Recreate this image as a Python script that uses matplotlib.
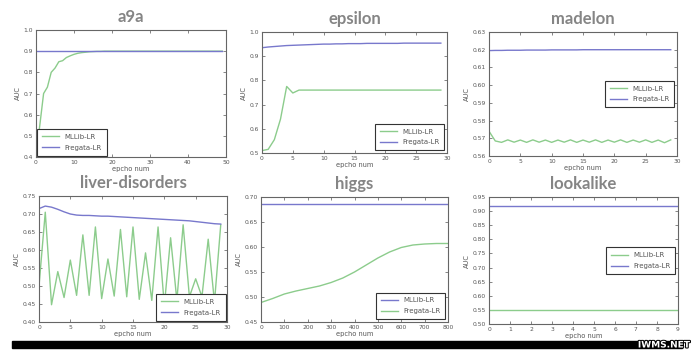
import numpy as np
import matplotlib
matplotlib.use("Agg")
import matplotlib.pyplot as plt
import matplotlib.patheffects as pe

# ---- data ----
a9a_x = list(range(50))
a9a_mllib = [0.40, 0.55, 0.70, 0.73, 0.80, 0.82, 0.85, 0.855, 0.87, 0.878,
             0.885, 0.890, 0.893, 0.895, 0.897, 0.898, 0.899, 0.899, 0.900, 0.900] + [0.900] * 30
a9a_fregata = [0.901] * 50

eps_x = list(range(30))
eps_mllib = [0.51, 0.515, 0.555, 0.64, 0.775, 0.748, 0.76, 0.76, 0.76, 0.76] + [0.76] * 20
eps_fregata = [0.935, 0.938, 0.940, 0.942, 0.944, 0.945, 0.946, 0.947, 0.948, 0.949,
               0.950, 0.950, 0.951, 0.951, 0.952, 0.952, 0.952, 0.953, 0.953, 0.953,
               0.953, 0.953, 0.953, 0.954, 0.954, 0.954, 0.954, 0.954, 0.954, 0.954]

mad_x = list(range(30))
mad_mllib = [0.5740, 0.5685, 0.5677, 0.5691, 0.5678, 0.5690, 0.5677, 0.5691, 0.5678, 0.5690,
             0.5677, 0.5690, 0.5678, 0.5691, 0.5677, 0.5690, 0.5678, 0.5691, 0.5677, 0.5690,
             0.5678, 0.5691, 0.5677, 0.5690, 0.5678, 0.5691, 0.5677, 0.5690, 0.5675, 0.5691]
mad_fregata = [0.6195, 0.6196, 0.6196, 0.6197, 0.6197, 0.6197, 0.6198, 0.6198, 0.6198, 0.6198,
               0.6199, 0.6199, 0.6199, 0.6199, 0.6199, 0.6200, 0.6200, 0.6200, 0.6200, 0.6200,
               0.6200, 0.6200, 0.6200, 0.6200, 0.6200, 0.6200, 0.6200, 0.6200, 0.6200, 0.6200]

liver_x = list(range(30))
liver_mllib = [0.50, 0.705, 0.448, 0.540, 0.468, 0.572, 0.474, 0.642, 0.474, 0.664,
               0.465, 0.575, 0.472, 0.657, 0.470, 0.664, 0.463, 0.592, 0.460, 0.664,
               0.445, 0.634, 0.460, 0.670, 0.470, 0.520, 0.470, 0.630, 0.455, 0.670]
liver_fregata = [0.715, 0.722, 0.719, 0.713, 0.706, 0.700, 0.697, 0.696, 0.696, 0.695,
                 0.694, 0.694, 0.693, 0.692, 0.691, 0.690, 0.689, 0.688, 0.687, 0.686,
                 0.685, 0.684, 0.683, 0.682, 0.681, 0.679, 0.677, 0.675, 0.673, 0.672]

higgs_x = [0, 50, 100, 150, 200, 250, 300, 350, 400, 450, 500, 550, 600, 650, 700, 750, 800]
higgs_mllib = [0.685] * 17
higgs_fregata = [0.489, 0.497, 0.506, 0.512, 0.517, 0.522, 0.529, 0.538, 0.550, 0.564,
                 0.578, 0.590, 0.599, 0.604, 0.606, 0.607, 0.607]

look_x = list(range(10))
look_mllib = [0.55] * 10
look_fregata = [0.918] * 10

BLUE = "#7878cc"
GREEN = "#8ccc8c"
FRAME = "#666666"
TXT = "#555555"

fig = plt.figure(figsize=(6.98, 3.53), dpi=100)
W, H = 698.0, 353.0


def make_ax(l, r, t, b):
    return fig.add_axes([l / W, (H - b) / H, (r - l) / W, (b - t) / H])


def style(ax, title, xlim, ylim, xticks, yticks, yfmt):
    ax.set_xlim(*xlim)
    ax.set_ylim(*ylim)
    ax.set_xticks(xticks)
    ax.set_yticks(yticks)
    ax.set_yticklabels([yfmt % v for v in yticks])
    ax.tick_params(direction="in", length=2, width=0.5, labelsize=4.3, colors=TXT,
                   top=True, right=True, pad=2)
    for s in ax.spines.values():
        s.set_color(FRAME)
        s.set_linewidth(0.8)
    ax.set_xlabel("epcho num", fontsize=4.8, color=TXT, labelpad=1)
    ax.set_ylabel("AUC", fontsize=4.8, color=TXT, labelpad=2)
    ax.set_title(title, fontsize=12, color="#858585", family="Lato", weight="bold", pad=6)


def legend(ax, loc, **kw):
    lg = ax.legend(loc=loc, fontsize=5, fancybox=False, framealpha=1,
                   handlelength=2.4, borderpad=0.7, labelspacing=0.7, **kw)
    lg.get_frame().set_edgecolor("#333333")
    lg.get_frame().set_linewidth(0.8)
    for t in lg.get_texts():
        t.set_color(TXT)


# a9a
ax = make_ax(36, 226, 30, 157)
ax.plot(a9a_x, a9a_mllib, color=GREEN, lw=1, label="MLLib-LR")
ax.plot(a9a_x, a9a_fregata, color=BLUE, lw=1, label="Fregata-LR")
style(ax, "a9a", (0, 50), (0.4, 1.0), range(0, 51, 10), np.arange(0.4, 1.01, 0.1), "%.1f")
legend(ax, "lower left", borderaxespad=0.2)

# epsilon
ax = make_ax(262, 447, 32, 153)
ax.plot(eps_x, eps_mllib, color=GREEN, lw=1, label="MLLib-LR")
ax.plot(eps_x, eps_fregata, color=BLUE, lw=1, label="Fregata-LR")
style(ax, "epsilon", (0, 30), (0.5, 1.0), range(0, 31, 5), np.arange(0.5, 1.01, 0.1), "%.1f")
legend(ax, "lower right", borderaxespad=0.4)

# madelon
ax = make_ax(489, 677, 32, 156)
ax.plot(mad_x, mad_mllib, color=GREEN, lw=1, label="MLLib-LR")
ax.plot(mad_x, mad_fregata, color=BLUE, lw=1, label="Fregata-LR")
style(ax, "madelon", (0, 30), (0.56, 0.63), range(0, 31, 5), np.arange(0.56, 0.631, 0.01), "%.2f")
legend(ax, "center right", borderaxespad=0.4)

# liver-disorders
ax = make_ax(39, 227, 196, 322)
ax.plot(liver_x, liver_mllib, color=GREEN, lw=1, label="MLLib-LR")
ax.plot(liver_x, liver_fregata, color=BLUE, lw=1, label="Fregata-LR")
style(ax, "liver-disorders", (0, 30), (0.40, 0.75), range(0, 31, 5), np.arange(0.40, 0.751, 0.05), "%.2f")
legend(ax, "lower right", borderaxespad=0.2)

# higgs
ax = make_ax(261, 448, 197, 322)
ax.plot(higgs_x, higgs_mllib, color=BLUE, lw=1, label="MLLib-LR")
ax.plot(higgs_x, higgs_fregata, color=GREEN, lw=1, label="Fregata-LR")
style(ax, "higgs", (0, 800), (0.45, 0.70), range(0, 801, 100), np.arange(0.45, 0.701, 0.05), "%.2f")
legend(ax, "lower right", borderaxespad=0.4)

# lookalike
ax = make_ax(489, 678, 197, 324)
ax.plot(look_x, look_mllib, color=GREEN, lw=1, label="MLLib-LR")
ax.plot(look_x, look_fregata, color=BLUE, lw=1, label="Fregata-LR")
style(ax, "lookalike", (0, 9), (0.50, 0.95), range(0, 10), np.arange(0.50, 0.951, 0.05), "%.2f")
legend(ax, "center right", borderaxespad=0.4)

# black strip along the bottom and the site watermark
fig.patches.append(plt.Rectangle((12 / W, (H - 348) / H), 670 / W, 7 / H,
                                 transform=fig.transFigure, color="black", zorder=5))
fig.text(690 / W, (H - 345) / H, "IWMS.NET", ha="right", va="center", fontsize=6.5,
         weight="bold", color="white", zorder=6,
         path_effects=[pe.withStroke(linewidth=1.5, foreground="black")])

fig.savefig("out.png", dpi=100, facecolor="white")
